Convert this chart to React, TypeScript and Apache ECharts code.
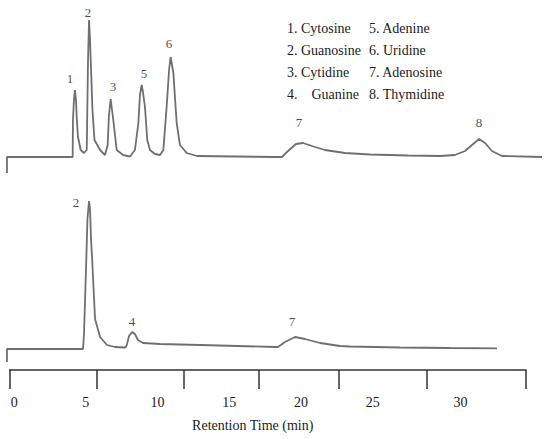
import React, { useEffect, useRef } from "react";
import * as echarts from "echarts";

// ---- data (retention time in min, detector signal in arbitrary units) ----
const TOP_TIME = [
  -0.5, -0.5, 4.08, 4.1, 4.17, 4.24, 4.31, 4.36, 4.45, 4.64, 4.87,
  5.06, 5.15, 5.22, 5.29, 5.46, 5.6, 5.99, 6.33,
  6.52, 6.61, 6.73, 6.91, 7.15, 7.59, 8.08,
  8.42, 8.66, 8.77, 8.89, 8.98, 9.12, 9.28, 9.47, 9.82, 10.17,
  10.4, 10.63, 10.8, 10.91, 11.1, 11.33, 11.56, 12.03, 12.75,
  18.18, 18.67, 19.09, 19.65, 20.14, 20.76, 21.67, 23.06, 24.81, 27.46, 29.69,
  30.73, 31.43, 31.92, 32.41, 32.83, 33.31, 34.01, 36.8,
];
const TOP_SIGNAL = [
  -16, 0, 0, 37, 57, 67, 57, 40, 20, 7, 4,
  7, 97, 137, 117, 47, 17, 7, 2,
  12, 42, 58, 37, 7, 2, 0.5,
  7, 34, 62, 72, 65, 50, 17, 7, 3, 2,
  7, 50, 87, 100, 84, 34, 12, 4, 1,
  0, 0, 6, 13, 14, 11, 7, 4, 2.5, 1.5, 1,
  2, 6, 12, 18, 14, 6, 1, 0,
];
const BOTTOM_TIME = [
  -0.5, -0.5, 4.8, 4.87, 5.01, 5.11, 5.22, 5.29, 5.36, 5.43, 5.64, 5.99, 6.47,
  7.03, 7.73, 7.8, 7.87, 8.01, 8.22, 8.42, 8.63, 8.98, 10.17, 12.96,
  18.18, 18.39, 18.88, 19.58, 20.28, 21.32, 22.72, 23.41, 26.9, 30.39, 33.66,
];
const BOTTOM_SIGNAL = [
  -13, 0, 0, 15, 80, 130, 148, 140, 110, 92, 30, 12, 4,
  2, 1.5, 2, 5, 13, 17, 15, 9, 6, 5, 4,
  2, 2, 7, 12, 10, 6, 3, 2.5, 1.5, 1, 0.7,
];

// peak number labels
const TOP_PEAK_IDS = ["1", "2", "3", "5", "6", "7", "8"];
const TOP_PEAK_TIME = [3.89, 5.15, 6.89, 9.05, 10.8, 19.86, 32.41];
const TOP_PEAK_LABEL_Y = [79, 145, 71, 84, 114, 35, 35];
const BOTTOM_PEAK_IDS = ["2", "4", "7"];
const BOTTOM_PEAK_TIME = [4.31, 8.22, 19.37];
const BOTTOM_PEAK_LABEL_Y = [147, 28, 28];

// compound key
const COMPOUNDS = [
  "Cytosine", "Guanosine", "Cytidine", "Guanine",
  "Adenine", "Uridine", "Adenosine", "Thymidine",
];

// axis ticks and labels (the drawn axis has uneven tick marks)
const AXIS_TICKS = [-0.32, 5.74, 11.81, 17.04, 22.65, 28.74, 35.68];
const TICK_LABELS = ["0", "5", "10", "15", "20", "25", "30"];
const TICK_LABEL_POS = [0, 5, 10, 15, 20, 25, 31.12];

// layout: page pixel at time 0 and pixels per minute
const PX0 = 14.15;
const PXPM = 14.344;
const W = 550;
const H = 439;

const FONT = "'Liberation Serif', 'Times New Roman', serif";
const TRACE_COLOR = "#6f6f6f";
const TEXT_COLOR = "#1a1a1a";

function zip(a: number[], b: number[]) {
  return a.map((v, i) => [v, b[i]]);
}

function peakLabel() {
  return {
    show: true,
    position: "inside",
    formatter: "{b}",
    fontFamily: FONT,
    fontSize: 13,
    color: TEXT_COLOR,
    textBorderWidth: 0,
  };
}

export default function App() {
  const ref = useRef<HTMLDivElement>(null);

  useEffect(() => {
    if (!ref.current) return;
    const chart = echarts.init(ref.current, undefined, { renderer: "svg" });

    const dataMin = -PX0 / PXPM;
    const dataMax = (W - PX0) / PXPM;
    const axisLeft = PX0 + AXIS_TICKS[0] * PXPM;
    const axisRight = W - (PX0 + AXIS_TICKS[AXIS_TICKS.length - 1] * PXPM);

    const legendItems = COMPOUNDS.map((name, i) => {
      const col = Math.floor(i / 4);
      const row = i % 4;
      const text = i === 3 ? `${i + 1}.    ${name}` : `${i + 1}. ${name}`;
      return {
        type: "text",
        x: col === 0 ? 287 : 369,
        y: 28 + row * 22,
        style: {
          text,
          font: `14px ${FONT}`,
          fill: TEXT_COLOR,
          verticalAlign: "middle",
          align: "left",
        },
      };
    });

    chart.setOption({
      animation: false,
      backgroundColor: "#ffffff",
      grid: [
        { left: 0, right: 0, top: 0, height: 177 },
        { left: 0, right: 0, top: 180, height: 189 },
        { left: axisLeft, right: axisRight, top: 360, height: 10 },
      ],
      xAxis: [
        { type: "value", gridIndex: 0, min: dataMin, max: dataMax, show: false },
        { type: "value", gridIndex: 1, min: dataMin, max: dataMax, show: false },
        {
          type: "value",
          gridIndex: 2,
          position: "bottom",
          min: AXIS_TICKS[0],
          max: AXIS_TICKS[AXIS_TICKS.length - 1],
          splitLine: { show: false },
          axisLine: { show: true, lineStyle: { color: "#333", width: 1.5 } },
          axisTick: {
            show: true,
            customValues: AXIS_TICKS,
            length: 19,
            lineStyle: { color: "#333", width: 1.5 },
          },
          axisLabel: {
            customValues: TICK_LABEL_POS,
            formatter: (v: number) => {
              let best = 0;
              TICK_LABEL_POS.forEach((p, i) => {
                if (Math.abs(p - v) < Math.abs(TICK_LABEL_POS[best] - v)) best = i;
              });
              return TICK_LABELS[best];
            },
            margin: 25,
            fontFamily: FONT,
            fontSize: 14,
            color: TEXT_COLOR,
          },
          name: "Retention Time (min)",
          nameLocation: "middle",
          nameGap: 48,
          nameTextStyle: {
            fontFamily: FONT,
            fontSize: 14,
            color: TEXT_COLOR,
            padding: [0, 30, 0, 0],
          },
        },
      ],
      yAxis: [
        { type: "value", gridIndex: 0, min: -20, max: 157, show: false },
        { type: "value", gridIndex: 1, min: -20, max: 169, show: false },
        { type: "value", gridIndex: 2, min: 0, max: 1, show: false },
      ],
      graphic: legendItems,
      series: [
        {
          type: "line",
          xAxisIndex: 0,
          yAxisIndex: 0,
          data: zip(TOP_TIME, TOP_SIGNAL),
          showSymbol: false,
          lineStyle: { color: TRACE_COLOR, width: 1.8 },
          silent: true,
        },
        {
          type: "line",
          xAxisIndex: 1,
          yAxisIndex: 1,
          data: zip(BOTTOM_TIME, BOTTOM_SIGNAL),
          showSymbol: false,
          lineStyle: { color: TRACE_COLOR, width: 1.8 },
          silent: true,
        },
        {
          type: "scatter",
          xAxisIndex: 0,
          yAxisIndex: 0,
          symbolSize: 0,
          clip: false,
          silent: true,
          itemStyle: { color: TEXT_COLOR },
          label: peakLabel(),
          data: TOP_PEAK_IDS.map((id, i) => ({
            name: id,
            value: [TOP_PEAK_TIME[i], TOP_PEAK_LABEL_Y[i]],
          })),
        },
        {
          type: "scatter",
          xAxisIndex: 1,
          yAxisIndex: 1,
          symbolSize: 0,
          clip: false,
          silent: true,
          itemStyle: { color: TEXT_COLOR },
          label: peakLabel(),
          data: BOTTOM_PEAK_IDS.map((id, i) => ({
            name: id,
            value: [BOTTOM_PEAK_TIME[i], BOTTOM_PEAK_LABEL_Y[i]],
          })),
        },
      ],
    });

    return () => chart.dispose();
  }, []);

  return (
    <div
      ref={ref}
      style={{ position: "absolute", left: 0, top: 0, width: W, height: H, background: "#fff" }}
    />
  );
}
